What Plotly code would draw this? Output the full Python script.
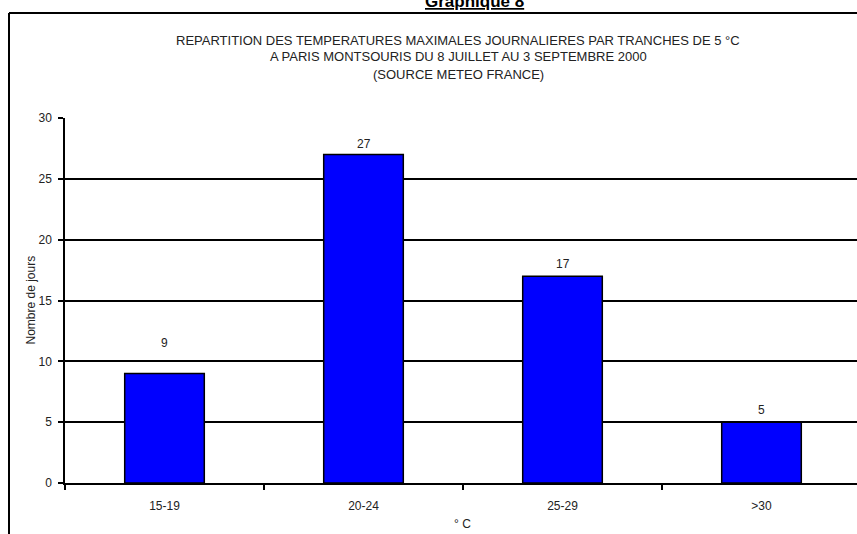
import plotly.graph_objects as go

categories = ["15-19", "20-24", "25-29", ">30"]
days = [9, 27, 17, 5]
label_offsets = [31, 11, 12, 12]  # pixel lift of each value label above its bar

title_lines = [
    "REPARTITION DES TEMPERATURES MAXIMALES JOURNALIERES PAR TRANCHES DE 5 °C",
    "A PARIS MONTSOURIS DU 8 JUILLET AU 3 SEPTEMBRE 2000",
    "(SOURCE METEO FRANCE)",
]
y_ticks = [0, 5, 10, 15, 20, 25, 30]

W, H = 857, 534
L, R, T, B = 65, 0, 118, 51
pw, ph = W - L - R, H - T - B

def px_x(p):
    return (p - L) / pw

def px_y(p):
    return (H - B - p) / ph

FONT = "Liberation Sans, Arial, sans-serif"
TXT = "#222222"
FS = 12

fig = go.Figure()
fig.add_trace(go.Bar(
    x=categories, y=days, width=0.4,
    marker=dict(color="#0000FF", line=dict(color="black", width=1.5)),
    hoverinfo="x+y",
))

annotations = []
for c, v, off in zip(categories, days, label_offsets):
    annotations.append(dict(x=c, y=v, xref="x", yref="y", text=str(v), showarrow=False,
                            yshift=off, yanchor="middle",
                            font=dict(family=FONT, size=FS, color=TXT)))
for i, (line, py) in enumerate(zip(title_lines, [40, 57, 74])):
    annotations.append(dict(x=px_x(458), y=px_y(py), xref="paper", yref="paper", text=line,
                            showarrow=False, xanchor="center", yanchor="middle",
                            font=dict(family=FONT, size=13, color=TXT)))
annotations.append(dict(x=px_x(475), y=px_y(2), xref="paper", yref="paper",
                        text="<b><u>Graphique 8</u></b>", showarrow=False,
                        xanchor="center", yanchor="middle",
                        font=dict(family=FONT, size=17, color="black")))
annotations.append(dict(x=px_x(30), y=0.5, xref="paper", yref="paper", text="Nombre de jours",
                        textangle=-90, showarrow=False, xanchor="center", yanchor="middle",
                        font=dict(family=FONT, size=FS, color=TXT)))
annotations.append(dict(x=px_x(463), y=px_y(524), xref="paper", yref="paper", text="° C",
                        showarrow=False, xanchor="center", yanchor="middle",
                        font=dict(family=FONT, size=FS, color=TXT)))

shapes = [
    dict(type="line", xref="paper", yref="paper", x0=px_x(9), x1=px_x(9), y0=px_y(560), y1=px_y(13),
         line=dict(color="black", width=2)),
    dict(type="line", xref="paper", yref="paper", x0=px_x(9), x1=px_x(880), y0=px_y(13), y1=px_y(13),
         line=dict(color="black", width=2)),
]

fig.update_layout(
    width=W, height=H,
    margin=dict(l=L, r=R, t=T, b=B, pad=0),
    paper_bgcolor="white", plot_bgcolor="white",
    showlegend=False, bargap=0.6,
    annotations=annotations, shapes=shapes,
    font=dict(family=FONT, size=FS, color=TXT),
)
fig.update_xaxes(
    type="category", range=[-0.5, -0.5 + pw / 199.0], tickson="boundaries",
    ticks="outside", ticklen=5, tickwidth=1.5, tickcolor="black",
    showline=True, linecolor="black", linewidth=1.5, showgrid=False, zeroline=False,
    ticklabelstandoff=11, tickfont=dict(family=FONT, size=FS, color=TXT),
)
fig.update_yaxes(
    range=[0, 30], tickvals=y_ticks, ticks="outside", ticklen=5, tickwidth=1.5, tickcolor="black",
    showline=True, linecolor="black", linewidth=1.5,
    showgrid=True, gridcolor="black", gridwidth=1.5, zeroline=False,
    ticklabelstandoff=4, tickfont=dict(family=FONT, size=FS, color=TXT),
)

fig.write_html("out.html", config={"displayModeBar": False},
               post_script="document.body.style.margin='0px';")
